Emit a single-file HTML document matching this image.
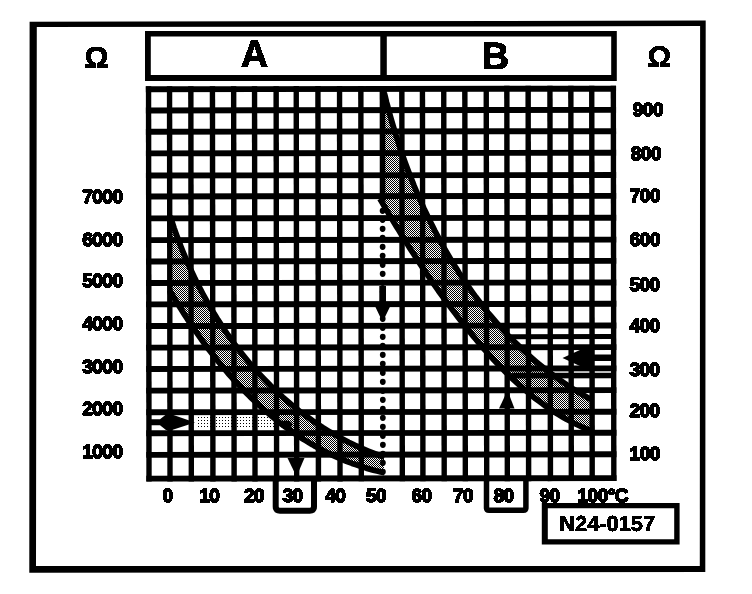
<!DOCTYPE html>
<html><head><meta charset="utf-8"><title>N24-0157</title>
<style>
html,body{margin:0;padding:0;background:#fff;}
body{width:752px;height:594px;overflow:hidden;font-family:"Liberation Sans",sans-serif;}
svg{display:block}
text{font-family:"Liberation Sans",sans-serif;font-weight:bold;fill:#000;}
.lb{font-size:19px;stroke:#000;stroke-width:1.5px;stroke-linejoin:round;letter-spacing:-0.5px;}
</style></head><body>
<svg width="752" height="594" viewBox="0 0 752 594" shape-rendering="geometricPrecision">
<defs>
<pattern id="d" width="2" height="2" patternUnits="userSpaceOnUse" shape-rendering="crispEdges"><rect width="2" height="2" fill="#fff"/><rect width="1" height="1" fill="#000"/><rect x="1" y="1" width="1" height="1" fill="#000"/></pattern>
<pattern id="l" width="3" height="3" patternUnits="userSpaceOnUse" shape-rendering="crispEdges"><rect width="3" height="3" fill="#fff"/><rect width="1" height="1" fill="#000"/></pattern>
<filter id="bw" x="0" y="0" width="100%" height="100%" filterUnits="userSpaceOnUse" color-interpolation-filters="sRGB"><feComponentTransfer><feFuncA type="discrete" tableValues="0 1"/></feComponentTransfer></filter>
</defs>
<rect width="752" height="594" fill="#fff"/>

<path d="M29.6,21.7 L705.7,20.6 L705.3,572 L29.3,572.8 Z M36.8,27.1 L36,566 L699.8,565.9 L700.1,26.1 Z" fill="#000" fill-rule="evenodd"/>
<g><path d="M145,31 H616.8 V81 H145 Z M150.8,36.6 V75 H380.3 V36.6 Z M386.8,36.6 V75 H611.2 V36.6 Z" fill="#000" fill-rule="evenodd"/></g>
<path d="M170.2,216.1 L171.5,220.1 L172.8,224.1 L174.1,228.1 L175.5,232.1 L176.9,236.0 L178.4,240.0 L179.9,243.9 L181.4,247.9 L183.0,251.8 L184.6,255.7 L186.3,259.6 L188.0,263.5 L189.7,267.4 L191.5,271.2 L193.3,275.0 L195.1,278.9 L197.0,282.7 L198.9,286.5 L200.9,290.2 L202.9,294.0 L204.9,297.7 L207.0,301.4 L209.1,305.1 L211.2,308.8 L213.4,312.4 L215.6,316.1 L217.8,319.7 L220.1,323.2 L222.5,326.8 L224.8,330.3 L227.2,333.8 L229.7,337.3 L232.1,340.7 L234.6,344.1 L237.2,347.5 L239.8,350.9 L242.4,354.2 L245.0,357.5 L247.7,360.8 L250.4,364.0 L253.2,367.2 L256.0,370.4 L258.8,373.5 L261.7,376.6 L264.6,379.6 L267.6,382.6 L270.5,385.6 L273.6,388.6 L276.6,391.5 L279.7,394.3 L282.8,397.2 L286.0,399.9 L289.2,402.7 L292.4,405.4 L295.7,408.0 L299.0,410.7 L302.3,413.2 L305.7,415.7 L309.1,418.2 L312.5,420.7 L316.0,423.0 L319.5,425.4 L323.0,427.7 L326.6,429.9 L330.2,432.1 L333.9,434.2 L337.6,436.3 L341.3,438.4 L345.0,440.3 L348.8,442.3 L352.6,444.1 L356.5,446.0 L360.4,447.7 L364.3,449.4 L368.3,451.1 L372.3,452.7 L376.3,454.2 L380.4,455.7 L384.5,457.1 L384.4,472.7 L380.7,471.9 L377.0,471.0 L373.4,470.1 L369.8,469.1 L366.2,468.1 L362.6,467.0 L359.1,465.8 L355.6,464.6 L352.1,463.4 L348.6,462.1 L345.2,460.7 L341.8,459.3 L338.4,457.9 L335.1,456.4 L331.8,454.8 L328.5,453.2 L325.2,451.6 L321.9,449.9 L318.7,448.2 L315.5,446.5 L312.4,444.6 L309.2,442.8 L306.1,440.9 L303.0,439.0 L299.9,437.0 L296.9,435.0 L293.9,433.0 L290.9,430.9 L287.9,428.7 L285.0,426.6 L282.0,424.4 L279.1,422.2 L276.3,419.9 L273.4,417.6 L270.6,415.3 L267.8,412.9 L265.0,410.5 L262.3,408.1 L259.6,405.6 L256.9,403.1 L254.2,400.6 L251.5,398.1 L248.9,395.5 L246.3,392.9 L243.7,390.3 L241.2,387.6 L238.6,384.9 L236.1,382.2 L233.6,379.5 L231.2,376.8 L228.7,374.0 L226.3,371.2 L223.9,368.4 L221.6,365.5 L219.2,362.7 L216.9,359.8 L214.6,356.9 L212.3,354.0 L210.0,351.1 L207.8,348.2 L205.6,345.2 L203.4,342.2 L201.2,339.2 L199.1,336.2 L197.0,333.2 L194.9,330.2 L192.8,327.2 L190.8,324.1 L188.7,321.1 L186.7,318.0 L184.7,314.9 L182.8,311.9 L180.8,308.8 L178.9,305.7 L177.0,302.6 L175.1,299.5 L173.3,296.4 L171.4,293.2 L169.6,290.1Z" fill="url(#d)" shape-rendering="crispEdges"/>
<path d="M383.2,88.5 L384.3,93.2 L385.5,97.8 L386.6,102.5 L387.9,107.1 L389.1,111.8 L390.4,116.5 L391.7,121.1 L393.1,125.8 L394.5,130.4 L395.9,135.1 L397.4,139.7 L398.9,144.4 L400.4,149.0 L402.0,153.7 L403.6,158.3 L405.3,162.9 L407.0,167.5 L408.7,172.1 L410.5,176.7 L412.3,181.2 L414.1,185.8 L416.0,190.3 L417.9,194.9 L419.9,199.4 L421.9,203.9 L423.9,208.4 L426.0,212.8 L428.1,217.3 L430.3,221.7 L432.5,226.1 L434.7,230.5 L437.0,234.8 L439.3,239.2 L441.6,243.5 L444.0,247.8 L446.4,252.0 L448.9,256.3 L451.4,260.5 L454.0,264.7 L456.6,268.8 L459.2,273.0 L461.9,277.1 L464.6,281.1 L467.4,285.2 L470.2,289.2 L473.0,293.1 L475.9,297.1 L478.9,301.0 L481.8,304.8 L484.9,308.7 L487.9,312.5 L491.0,316.2 L494.2,319.9 L497.4,323.6 L500.6,327.2 L503.9,330.8 L507.2,334.4 L510.6,337.9 L514.0,341.3 L517.5,344.7 L521.0,348.1 L524.5,351.4 L528.1,354.7 L531.7,357.9 L535.4,361.1 L539.1,364.2 L542.9,367.3 L546.7,370.3 L550.6,373.3 L554.5,376.2 L558.5,379.1 L562.5,381.9 L566.5,384.7 L570.6,387.4 L574.8,390.0 L579.0,392.6 L583.2,395.1 L587.5,397.6 L591.8,400.0 L591.5,431.0 L587.7,429.4 L584.0,427.9 L580.3,426.2 L576.7,424.5 L573.1,422.7 L569.5,420.8 L566.0,418.9 L562.5,416.9 L559.0,414.8 L555.6,412.7 L552.3,410.6 L548.9,408.3 L545.6,406.1 L542.4,403.7 L539.1,401.3 L535.9,398.9 L532.8,396.4 L529.7,393.9 L526.6,391.3 L523.5,388.7 L520.5,386.0 L517.5,383.3 L514.5,380.6 L511.5,377.8 L508.6,375.0 L505.7,372.2 L502.9,369.3 L500.0,366.4 L497.2,363.4 L494.4,360.5 L491.7,357.5 L488.9,354.4 L486.2,351.4 L483.5,348.3 L480.9,345.2 L478.2,342.1 L475.6,339.0 L473.0,335.9 L470.4,332.7 L467.8,329.6 L465.3,326.4 L462.8,323.2 L460.2,320.0 L457.7,316.8 L455.3,313.6 L452.8,310.3 L450.4,307.1 L448.0,303.8 L445.5,300.5 L443.2,297.3 L440.8,294.0 L438.4,290.7 L436.1,287.3 L433.8,284.0 L431.5,280.7 L429.2,277.3 L426.9,274.0 L424.6,270.6 L422.4,267.3 L420.1,263.9 L417.9,260.5 L415.7,257.1 L413.5,253.7 L411.3,250.3 L409.1,246.9 L407.0,243.5 L404.8,240.1 L402.7,236.7 L400.6,233.3 L398.5,229.8 L396.4,226.4 L394.3,222.9 L392.2,219.5 L390.1,216.1 L388.1,212.6 L386.0,209.2 L384.0,205.7 L382.0,202.3 L379.9,198.8Z" fill="url(#d)" shape-rendering="crispEdges"/>
<rect x="198" y="417" width="78" height="11" fill="url(#l)" shape-rendering="crispEdges"/>
<g transform="rotate(-0.07 367 297)">
<g fill="#000" shape-rendering="geometricPrecision"><rect x="146.10" y="86.03" width="5.4" height="395.32"/><rect x="167.10" y="86.03" width="5.4" height="395.32"/><rect x="188.40" y="86.03" width="5.4" height="395.32"/><rect x="210.00" y="86.03" width="5.4" height="395.32"/><rect x="231.20" y="86.03" width="5.4" height="395.32"/><rect x="252.10" y="86.03" width="5.4" height="395.32"/><rect x="273.70" y="86.03" width="5.4" height="395.32"/><rect x="293.80" y="86.03" width="5.4" height="395.32"/><rect x="315.50" y="86.03" width="5.4" height="395.32"/><rect x="337.10" y="86.03" width="5.4" height="395.32"/><rect x="358.40" y="86.03" width="5.4" height="395.32"/><rect x="399.40" y="86.03" width="5.4" height="395.32"/><rect x="420.00" y="86.03" width="5.4" height="395.32"/><rect x="441.30" y="86.03" width="5.4" height="395.32"/><rect x="462.40" y="86.03" width="5.4" height="395.32"/><rect x="483.80" y="86.03" width="5.4" height="395.32"/><rect x="504.40" y="86.03" width="5.4" height="395.32"/><rect x="525.70" y="86.03" width="5.4" height="395.32"/><rect x="547.50" y="86.03" width="5.4" height="395.32"/><rect x="568.40" y="86.03" width="5.4" height="395.32"/><rect x="589.30" y="86.03" width="5.4" height="395.32"/><rect x="610.90" y="86.03" width="5.4" height="395.32"/><rect x="146.10" y="86.03" width="470.20" height="5.9"/><rect x="146.10" y="107.23" width="470.20" height="5.9"/><rect x="146.10" y="128.53" width="470.20" height="5.9"/><rect x="146.10" y="150.13" width="470.20" height="5.9"/><rect x="146.10" y="172.33" width="470.20" height="5.9"/><rect x="146.10" y="193.23" width="470.20" height="5.9"/><rect x="146.10" y="215.13" width="470.20" height="5.9"/><rect x="146.10" y="236.93" width="470.20" height="5.9"/><rect x="146.10" y="258.23" width="470.20" height="5.9"/><rect x="146.10" y="279.83" width="470.20" height="5.9"/><rect x="146.10" y="301.15" width="470.20" height="5.9"/><rect x="146.10" y="322.85" width="470.20" height="5.9"/><rect x="146.10" y="344.45" width="470.20" height="5.9"/><rect x="146.10" y="365.75" width="470.20" height="5.9"/><rect x="146.10" y="387.45" width="470.20" height="5.9"/><rect x="146.10" y="409.05" width="470.20" height="5.9"/><rect x="146.10" y="430.05" width="470.20" height="5.9"/><rect x="146.10" y="451.65" width="470.20" height="5.9"/><rect x="146.10" y="475.45" width="470.20" height="5.9"/></g>
<rect x="379.9" y="88.98" width="5.6" height="112.0" fill="#000"/>
<g fill="#000" shape-rendering="auto"><ellipse cx="382.7" cy="210.8" rx="2.9" ry="3.1"/><ellipse cx="382.7" cy="219.8" rx="2.9" ry="3.1"/><ellipse cx="382.7" cy="228.8" rx="2.9" ry="3.1"/><ellipse cx="382.7" cy="237.8" rx="2.9" ry="3.1"/><ellipse cx="382.7" cy="246.8" rx="2.9" ry="3.1"/><ellipse cx="382.7" cy="255.8" rx="2.9" ry="3.1"/><ellipse cx="382.7" cy="264.8" rx="2.9" ry="3.1"/><ellipse cx="382.7" cy="273.8" rx="2.9" ry="3.1"/><ellipse cx="382.7" cy="282.8" rx="2.9" ry="3.1"/><ellipse cx="382.7" cy="291.8" rx="2.9" ry="3.1"/><ellipse cx="382.7" cy="300.8" rx="2.9" ry="3.1"/><ellipse cx="382.7" cy="309.8" rx="2.9" ry="3.1"/><ellipse cx="382.7" cy="318.8" rx="2.9" ry="3.1"/><ellipse cx="382.7" cy="327.8" rx="2.9" ry="3.1"/><ellipse cx="382.7" cy="336.8" rx="2.9" ry="3.1"/><ellipse cx="382.7" cy="345.8" rx="2.9" ry="3.1"/><ellipse cx="382.7" cy="354.8" rx="2.9" ry="3.1"/><ellipse cx="382.7" cy="363.8" rx="2.9" ry="3.1"/><ellipse cx="382.7" cy="372.8" rx="2.9" ry="3.1"/><ellipse cx="382.7" cy="381.8" rx="2.9" ry="3.1"/><ellipse cx="382.7" cy="390.8" rx="2.9" ry="3.1"/><ellipse cx="382.7" cy="399.8" rx="2.9" ry="3.1"/><ellipse cx="382.7" cy="408.8" rx="2.9" ry="3.1"/><ellipse cx="382.7" cy="417.8" rx="2.9" ry="3.1"/><ellipse cx="382.7" cy="426.8" rx="2.9" ry="3.1"/><ellipse cx="382.7" cy="435.8" rx="2.9" ry="3.1"/><ellipse cx="382.7" cy="444.8" rx="2.9" ry="3.1"/><ellipse cx="382.7" cy="453.8" rx="2.9" ry="3.1"/><ellipse cx="382.7" cy="462.8" rx="2.9" ry="3.1"/><ellipse cx="382.7" cy="471.8" rx="2.9" ry="3.1"/></g>
<rect x="506" y="334.3" width="107.6" height="5"/>
<rect x="512" y="373" width="101.6" height="5.6"/>
</g>
<g fill="none" stroke="#000" stroke-width="5.8" stroke-linejoin="round" stroke-linecap="butt" shape-rendering="auto">
<path d="M170.2,216.1 L171.5,220.1 L172.8,224.1 L174.1,228.1 L175.5,232.1 L176.9,236.0 L178.4,240.0 L179.9,243.9 L181.4,247.9 L183.0,251.8 L184.6,255.7 L186.3,259.6 L188.0,263.5 L189.7,267.4 L191.5,271.2 L193.3,275.0 L195.1,278.9 L197.0,282.7 L198.9,286.5 L200.9,290.2 L202.9,294.0 L204.9,297.7 L207.0,301.4 L209.1,305.1 L211.2,308.8 L213.4,312.4 L215.6,316.1 L217.8,319.7 L220.1,323.2 L222.5,326.8 L224.8,330.3 L227.2,333.8 L229.7,337.3 L232.1,340.7 L234.6,344.1 L237.2,347.5 L239.8,350.9 L242.4,354.2 L245.0,357.5 L247.7,360.8 L250.4,364.0 L253.2,367.2 L256.0,370.4 L258.8,373.5 L261.7,376.6 L264.6,379.6 L267.6,382.6 L270.5,385.6 L273.6,388.6 L276.6,391.5 L279.7,394.3 L282.8,397.2 L286.0,399.9 L289.2,402.7 L292.4,405.4 L295.7,408.0 L299.0,410.7 L302.3,413.2 L305.7,415.7 L309.1,418.2 L312.5,420.7 L316.0,423.0 L319.5,425.4 L323.0,427.7 L326.6,429.9 L330.2,432.1 L333.9,434.2 L337.6,436.3 L341.3,438.4 L345.0,440.3 L348.8,442.3 L352.6,444.1 L356.5,446.0 L360.4,447.7 L364.3,449.4 L368.3,451.1 L372.3,452.7 L376.3,454.2 L380.4,455.7 L384.5,457.1"/>
<path d="M169.6,290.1 L171.4,293.2 L173.3,296.4 L175.1,299.5 L177.0,302.6 L178.9,305.7 L180.8,308.8 L182.8,311.9 L184.7,314.9 L186.7,318.0 L188.7,321.1 L190.8,324.1 L192.8,327.2 L194.9,330.2 L197.0,333.2 L199.1,336.2 L201.2,339.2 L203.4,342.2 L205.6,345.2 L207.8,348.2 L210.0,351.1 L212.3,354.0 L214.6,356.9 L216.9,359.8 L219.2,362.7 L221.6,365.5 L223.9,368.4 L226.3,371.2 L228.7,374.0 L231.2,376.8 L233.6,379.5 L236.1,382.2 L238.6,384.9 L241.2,387.6 L243.7,390.3 L246.3,392.9 L248.9,395.5 L251.5,398.1 L254.2,400.6 L256.9,403.1 L259.6,405.6 L262.3,408.1 L265.0,410.5 L267.8,412.9 L270.6,415.3 L273.4,417.6 L276.3,419.9 L279.1,422.2 L282.0,424.4 L285.0,426.6 L287.9,428.7 L290.9,430.9 L293.9,433.0 L296.9,435.0 L299.9,437.0 L303.0,439.0 L306.1,440.9 L309.2,442.8 L312.4,444.6 L315.5,446.5 L318.7,448.2 L321.9,449.9 L325.2,451.6 L328.5,453.2 L331.8,454.8 L335.1,456.4 L338.4,457.9 L341.8,459.3 L345.2,460.7 L348.6,462.1 L352.1,463.4 L355.6,464.6 L359.1,465.8 L362.6,467.0 L366.2,468.1 L369.8,469.1 L373.4,470.1 L377.0,471.0 L380.7,471.9 L384.4,472.7"/>
<path d="M383.2,88.5 L384.3,93.2 L385.5,97.8 L386.6,102.5 L387.9,107.1 L389.1,111.8 L390.4,116.5 L391.7,121.1 L393.1,125.8 L394.5,130.4 L395.9,135.1 L397.4,139.7 L398.9,144.4 L400.4,149.0 L402.0,153.7 L403.6,158.3 L405.3,162.9 L407.0,167.5 L408.7,172.1 L410.5,176.7 L412.3,181.2 L414.1,185.8 L416.0,190.3 L417.9,194.9 L419.9,199.4 L421.9,203.9 L423.9,208.4 L426.0,212.8 L428.1,217.3 L430.3,221.7 L432.5,226.1 L434.7,230.5 L437.0,234.8 L439.3,239.2 L441.6,243.5 L444.0,247.8 L446.4,252.0 L448.9,256.3 L451.4,260.5 L454.0,264.7 L456.6,268.8 L459.2,273.0 L461.9,277.1 L464.6,281.1 L467.4,285.2 L470.2,289.2 L473.0,293.1 L475.9,297.1 L478.9,301.0 L481.8,304.8 L484.9,308.7 L487.9,312.5 L491.0,316.2 L494.2,319.9 L497.4,323.6 L500.6,327.2 L503.9,330.8 L507.2,334.4 L510.6,337.9 L514.0,341.3 L517.5,344.7 L521.0,348.1 L524.5,351.4 L528.1,354.7 L531.7,357.9 L535.4,361.1 L539.1,364.2 L542.9,367.3 L546.7,370.3 L550.6,373.3 L554.5,376.2 L558.5,379.1 L562.5,381.9 L566.5,384.7 L570.6,387.4 L574.8,390.0 L579.0,392.6 L583.2,395.1 L587.5,397.6 L591.8,400.0"/>
<path d="M379.9,198.8 L382.0,202.3 L384.0,205.7 L386.0,209.2 L388.1,212.6 L390.1,216.1 L392.2,219.5 L394.3,222.9 L396.4,226.4 L398.5,229.8 L400.6,233.3 L402.7,236.7 L404.8,240.1 L407.0,243.5 L409.1,246.9 L411.3,250.3 L413.5,253.7 L415.7,257.1 L417.9,260.5 L420.1,263.9 L422.4,267.3 L424.6,270.6 L426.9,274.0 L429.2,277.3 L431.5,280.7 L433.8,284.0 L436.1,287.3 L438.4,290.7 L440.8,294.0 L443.2,297.3 L445.5,300.5 L448.0,303.8 L450.4,307.1 L452.8,310.3 L455.3,313.6 L457.7,316.8 L460.2,320.0 L462.8,323.2 L465.3,326.4 L467.8,329.6 L470.4,332.7 L473.0,335.9 L475.6,339.0 L478.2,342.1 L480.9,345.2 L483.5,348.3 L486.2,351.4 L488.9,354.4 L491.7,357.5 L494.4,360.5 L497.2,363.4 L500.0,366.4 L502.9,369.3 L505.7,372.2 L508.6,375.0 L511.5,377.8 L514.5,380.6 L517.5,383.3 L520.5,386.0 L523.5,388.7 L526.6,391.3 L529.7,393.9 L532.8,396.4 L535.9,398.9 L539.1,401.3 L542.4,403.7 L545.6,406.1 L548.9,408.3 L552.3,410.6 L555.6,412.7 L559.0,414.8 L562.5,416.9 L566.0,418.9 L569.5,420.8 L573.1,422.7 L576.7,424.5 L580.3,426.2 L584.0,427.9 L587.7,429.4 L591.5,431.0"/>
</g>
<g fill="#000" shape-rendering="auto">
<path d="M151,419.3 H160 L166,414.5 H172 L195,422.5 L172,430 H166 L160,425.2 H151 Z"/>
<ellipse cx="286" cy="424.5" rx="6.5" ry="4"/>
<path d="M287.5,458 H304.5 L296.5,476.5 Z"/>
<path d="M379.3,286 H386 V304 H391.3 L382.6,322 L374,304 H379.3 Z"/>
<path d="M611,354.5 H594 V349.5 H581 L562.5,358 L581,366.5 H594 V361 H611 Z"/>
<path d="M507.5,390.5 L514.5,408.5 H499 Z"/>
</g>
<g fill="none" stroke="#000" stroke-width="6" shape-rendering="auto">
<path d="M275.7,479 V506.5 Q275.7,510.7 279.9,510.7 H309.8 Q314,510.7 314,506.5 V479"/>
<path d="M486.5,479 V507.7 Q486.5,510.2 489,510.2 H523.4 Q525.9,510.2 525.9,507.7 V479" stroke-width="5.5"/>
</g>
<path d="M541.8,503 H679.6 V544.5 H541.8 Z M547.8,508.2 V539.2 H674.2 V508.2 Z" fill="#000" fill-rule="evenodd"/>
<g shape-rendering="auto" text-rendering="geometricPrecision" filter="url(#bw)">
<text x="96.5" y="68" font-size="30" text-anchor="middle" stroke="#000" stroke-width="0.9">Ω</text>
<text x="659.3" y="67" font-size="29.5" text-anchor="middle" stroke="#000" stroke-width="0.9">Ω</text>
<text x="254.4" y="67" font-size="38" text-anchor="middle" stroke="#000" stroke-width="1">A</text>
<text x="495.5" y="68.5" font-size="38" text-anchor="middle" stroke="#000" stroke-width="1">B</text>
<text class="lb" x="122.5" y="202.9" text-anchor="end">7000</text>
<text class="lb" x="122.5" y="246.3" text-anchor="end">6000</text>
<text class="lb" x="122.5" y="287.3" text-anchor="end">5000</text>
<text class="lb" x="122.5" y="329.8" text-anchor="end">4000</text>
<text class="lb" x="122.5" y="372.9" text-anchor="end">3000</text>
<text class="lb" x="122.5" y="415.3" text-anchor="end">2000</text>
<text class="lb" x="122.5" y="458.3" text-anchor="end">1000</text>
<text class="lb" x="632.8" y="116.0">900</text>
<text class="lb" x="630.8" y="160.3">800</text>
<text class="lb" x="629.8" y="201.9">700</text>
<text class="lb" x="629.8" y="245.8">600</text>
<text class="lb" x="629.4" y="291.3">500</text>
<text class="lb" x="629.4" y="331.7">400</text>
<text class="lb" x="629.4" y="376.0">300</text>
<text class="lb" x="629.4" y="416.5">200</text>
<text class="lb" x="629.6" y="460.3">100</text>
<text class="lb" x="167.6" y="501.7" text-anchor="middle">0</text>
<text class="lb" x="209.2" y="501.7" text-anchor="middle">10</text>
<text class="lb" x="254" y="501.7" text-anchor="middle">20</text>
<text class="lb" x="292.6" y="501.7" text-anchor="middle">30</text>
<text class="lb" x="335.2" y="501.7" text-anchor="middle">40</text>
<text class="lb" x="376" y="501.7" text-anchor="middle">50</text>
<text class="lb" x="421.5" y="501.7" text-anchor="middle">60</text>
<text class="lb" x="463" y="501.7" text-anchor="middle">70</text>
<text class="lb" x="503.6" y="501.7" text-anchor="middle">80</text>
<text class="lb" x="549.5" y="501.7" text-anchor="middle">90</text>
<text class="lb" x="577.5" y="501.7">100°C</text>
<text x="607.2" y="531" font-size="21.8" text-anchor="middle" stroke="#000" stroke-width="0.6">N24-0157</text>
</g>
</svg></body></html>
